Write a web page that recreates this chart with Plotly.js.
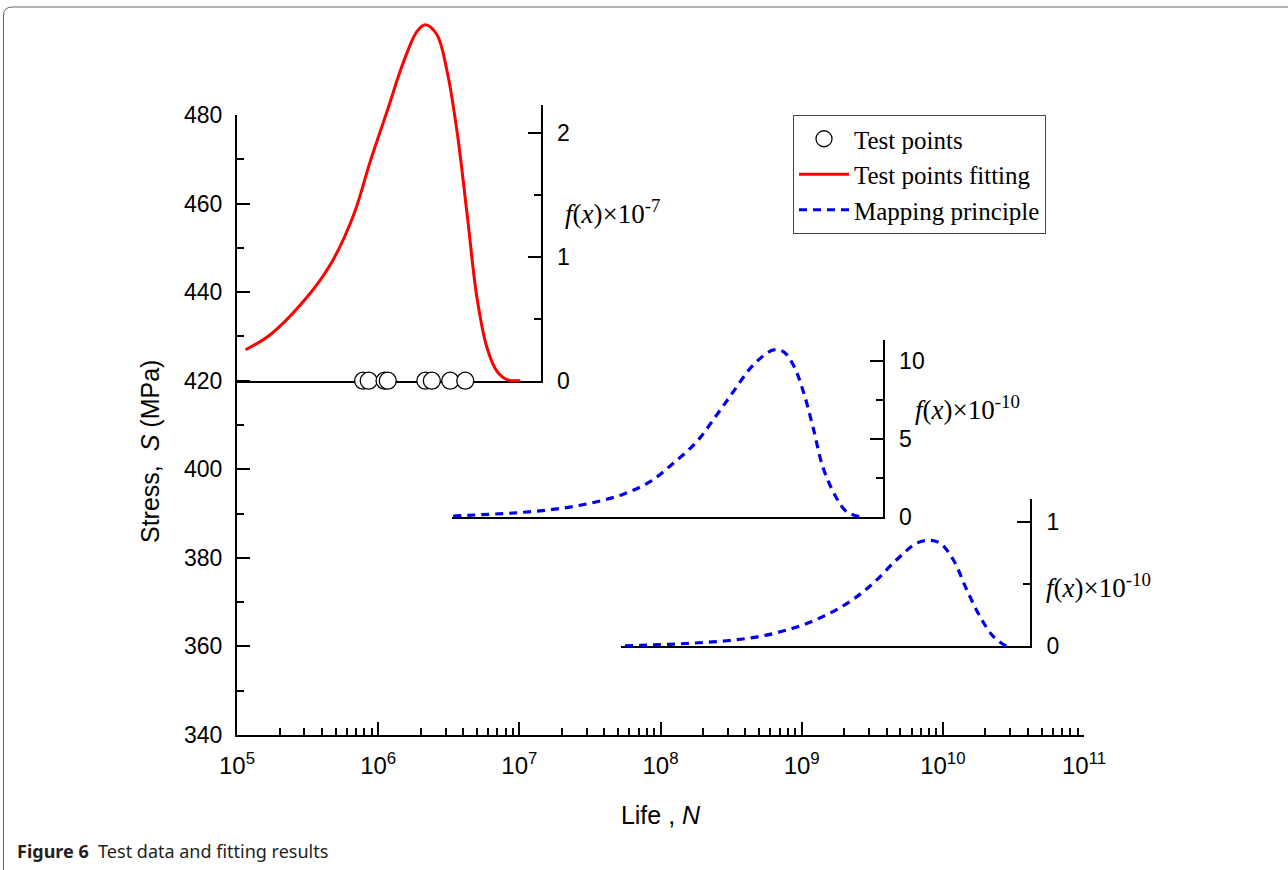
<!DOCTYPE html>
<html><head><meta charset="utf-8">
<script src="https://cdn.plot.ly/plotly-3.0.1.min.js"></script>
<style>html,body{margin:0;padding:0;background:#fff;} #chart{width:1288px;height:870px;}</style>
</head><body><div id="chart"></div>
<script>
// ---------------- DATA ----------------
// Test points at stress level 420 MPa
const testLife   = [7.82e5, 8.57e5, 1.11e6, 1.17e6, 2.16e6, 2.40e6, 3.24e6, 4.14e6];
const testStress = [420, 420, 420, 420, 420, 420, 420, 420];

// Test points fitting: f(x) x 10^-7
const fitLife = [1.15e5, 1.72e5, 2.96e5, 4.58e5, 6.71e5, 8.79e5, 1.156e6, 1.517e6, 1.884e6, 2.158e6,
                 2.61e6, 3.08e6, 3.62e6, 4.27e6, 5.01e6, 5.90e6, 6.95e6, 8.18e6, 1.016e7];
const fitF    = [0.250, 0.371, 0.640, 0.935, 1.339, 1.769, 2.172, 2.575, 2.817, 2.871,
                 2.790, 2.494, 2.010, 1.339, 0.669, 0.266, 0.075, 0.008, 0.0];

// Mapping principle, level 2: f(x) x 10^-10
const map1Life = [3.40e6, 6.19e6, 1.067e7, 1.837e7, 3.162e7, 5.445e7, 8.43e7, 1.233e8, 1.807e8, 2.50e8, 3.28e8,
                  4.54e8, 6.30e8, 7.41e8, 8.73e8, 1.028e9, 1.208e9, 1.422e9, 1.770e9, 2.084e9, 2.588e9];
const map1F    = [0.04, 0.154, 0.283, 0.495, 0.861, 1.439, 2.248, 3.430, 4.817, 6.532, 8.028,
                  9.743, 10.71, 10.60, 9.743, 8.028, 5.678, 3.109, 1.182, 0.321, 0.0];

// Mapping principle, level 3: f(x) x 10^-10
const map2Life = [5.60e7, 9.91e7, 1.706e8, 2.944e8, 5.07e8, 8.73e8, 1.422e9, 2.203e9, 3.214e9,
                  4.71e9, 6.53e9, 8.11e9, 9.55e9, 1.186e10, 1.476e10, 1.832e10, 2.275e10, 2.831e10];
const map2F    = [0.005, 0.014, 0.027, 0.046, 0.081, 0.148, 0.242, 0.363, 0.510,
                  0.699, 0.833, 0.855, 0.833, 0.699, 0.457, 0.242, 0.081, 0.0];

// Stress level (MPa) at which each density is drawn
const levelStress = [420, 389.3, 360];

// Tick labels
const xTickVals = [1e5, 1e6, 1e7, 1e8, 1e9, 1e10, 1e11];
const xTickText = ['10<sup>5</sup>', '10<sup>6</sup>', '10<sup>7</sup>', '10<sup>8</sup>',
                   '10<sup>9</sup>', '10<sup>10</sup>', '10<sup>11</sup>'];
const fLabels = ['<i>f</i>(<i>x</i>)×10<sup>-7</sup>', '<i>f</i>(<i>x</i>)×10<sup>-10</sup>', '<i>f</i>(<i>x</i>)×10<sup>-10</sup>'];

// ---------------- GEOMETRY ----------------
const W = 1288, H = 870;
const L = 237, R = 1084, T = 15, B = 735;
const sMin = 340, sMaxAxis = 480, stressTopPx = 115;
const ppm = (B - stressTopPx) / (sMaxAxis - sMin);       // pixels per MPa
const sTop = sMin + (B - T) / ppm;                        // stress at top of plot area
const px2x = p => (p - L) / (R - L);
const py2y = p => (B - p) / (B - T);
const sy = s => (s - sMin) / (sTop - sMin);

// per-panel: pixels per f unit, top of f axis, baseline span (px), ticks
const panels = [
  {pxPerUnit: 124,   top: 2.226, x0: 237,   x1: 540.5, dtick: 1, minor: 0.5, lab: [563, 212]},
  {pxPerUnit: 15.57, top: 11.35, x0: 451.5, x1: 882.5, dtick: 5, minor: 2.5, lab: [913, 408]},
  {pxPerUnit: 124,   top: 1.19,  x0: 621,   x1: 1030,  dtick: 1, minor: 0.5, lab: [1044, 586]}
];

const minorX = [];
for (let d = 5; d < 11; d++) for (let k = 2; k <= 9; k++) minorX.push(k * Math.pow(10, d));

const SANS = 'Liberation Sans, Arial, sans-serif';
const SERIF = 'Liberation Serif, Times New Roman, serif';
const hidden = {visible: false, showline: false, showgrid: false, zeroline: false, ticks: '', showticklabels: false, fixedrange: true};

// ---------------- TRACES ----------------
const dataTraces = [
  {
    name: 'Test points', x: testLife, y: testStress, xaxis: 'x5', yaxis: 'y5',
    type: 'scatter', mode: 'markers', cliponaxis: false,
    marker: {symbol: 'circle', size: 17, color: '#fff', line: {color: '#000', width: 1.3}}
  },
  {
    name: 'Test points fitting', x: fitLife, y: fitF, xaxis: 'x5', yaxis: 'y6',
    type: 'scatter', mode: 'lines', line: {color: '#ff0000', width: 3, shape: 'spline', smoothing: 1}
  },
  {
    name: 'Mapping principle', x: map1Life, y: map1F, xaxis: 'x5', yaxis: 'y7',
    type: 'scatter', mode: 'lines', line: {color: '#0000ee', width: 3.2, dash: '8px,6px', shape: 'spline', smoothing: 1}
  },
  {
    name: 'Mapping principle', x: map2Life, y: map2F, xaxis: 'x5', yaxis: 'y8', showlegend: false,
    type: 'scatter', mode: 'lines', line: {color: '#0000ee', width: 3.2, dash: '8px,6px', shape: 'spline', smoothing: 1}
  }
];
// empty traces registering the display subplots (axes only)
const axisTraces = [['x', 'y'], ['x2', 'y2'], ['x3', 'y3'], ['x4', 'y4']].map(a => ({
  x: [], y: [], xaxis: a[0], yaxis: a[1], type: 'scatter', mode: 'lines', showlegend: false, hoverinfo: 'skip'
}));

// ---------------- LAYOUT ----------------
const layout = {
  width: W, height: H, autosize: false,
  margin: {l: L, r: W - R, t: T, b: H - B, pad: 0},
  paper_bgcolor: '#ffffff', plot_bgcolor: 'rgba(0,0,0,0)',
  hovermode: false,
  font: {family: SANS, color: '#000'},
  showlegend: true,
  legend: {
    x: px2x(793), y: py2y(115), xanchor: 'left', yanchor: 'top',
    bgcolor: '#fff', bordercolor: '#444', borderwidth: 1,
    font: {family: SERIF, size: 25, color: '#000'},
    itemwidth: 50, traceorder: 'normal', tracegroupgap: 0
  },
  // visible main log axis
  xaxis: {
    type: 'log', range: [5, 11], domain: [0, 1], anchor: 'y',
    showline: true, linecolor: '#000', linewidth: 2,
    showgrid: false, zeroline: false, fixedrange: true,
    ticks: 'inside', ticklen: 13, tickwidth: 2, tickcolor: '#000',
    tickmode: 'array', tickvals: xTickVals, ticktext: xTickText,
    tickfont: {family: SANS, size: 24, color: '#000'},
    ticklabelstandoff: 8,
    minor: {tickmode: 'array', tickvals: minorX, ticks: 'inside', ticklen: 7, tickwidth: 2, tickcolor: '#000', showgrid: false},
    title: {text: 'Life , <i>N</i>', standoff: 29, font: {family: SANS, size: 25, color: '#000'}}
  },
  // visible stress axis
  yaxis: {
    range: [sMin, sMaxAxis], domain: [0, sy(sMaxAxis)], anchor: 'x',
    showline: true, linecolor: '#000', linewidth: 2,
    showgrid: false, zeroline: false, fixedrange: true,
    ticks: 'inside', ticklen: 13, tickwidth: 2, tickcolor: '#000',
    tick0: 340, dtick: 20, tickfont: {family: SANS, size: 23, color: '#000'}, ticklabelstandoff: 8,
    minor: {dtick: 10, ticks: 'inside', ticklen: 7, tickwidth: 2, tickcolor: '#000', showgrid: false}
  },
  // hidden data axes
  xaxis5: Object.assign({type: 'log', range: [5, 11], domain: [0, 1], anchor: 'y5'}, hidden),
  yaxis5: Object.assign({range: [sMin, sTop], domain: [0, 1], anchor: 'x5'}, hidden),
  annotations: [
    {xref: 'paper', yref: 'paper', x: px2x(150), y: py2y(452), text: 'Stress,\u00a0\u00a0<i>S</i> (MPa)',
     textangle: -90, showarrow: false, xanchor: 'center', yanchor: 'middle',
     font: {family: SANS, size: 25, color: '#000'}},
    {xref: 'paper', yref: 'paper', x: px2x(15), y: py2y(851), text: '<b>Figure 6</b>\u00a0\u00a0Test data and fitting results',
     showarrow: false, xanchor: 'left', yanchor: 'middle',
     font: {family: 'Noto Sans, sans-serif', size: 18, color: '#231f20'}}
  ],
  shapes: []
};

panels.forEach((p, i) => {
  const base = levelStress[i];
  const k = p.pxPerUnit / ppm;              // MPa per f unit
  const n = i + 2;                          // display axes 2..4
  const m = i + 6;                          // data axes 6..8
  layout['yaxis' + m] = Object.assign({
    overlaying: 'y5', anchor: 'x5',
    range: [(sMin - base) / k, (sTop - base) / k]
  }, hidden);
  layout['xaxis' + n] = {
    domain: [px2x(p.x0), px2x(p.x1)], anchor: 'y' + n, range: [0, 1],
    showline: true, linecolor: '#000', linewidth: 2, showgrid: false, zeroline: false,
    ticks: '', showticklabels: false, fixedrange: true
  };
  layout['yaxis' + n] = {
    domain: [sy(base), sy(base + p.top * k)], anchor: 'x' + n, side: 'right',
    range: [0, p.top], showline: true, linecolor: '#000', linewidth: 2,
    showgrid: false, zeroline: false, fixedrange: true,
    ticks: 'inside', ticklen: 13, tickwidth: 2, tickcolor: '#000',
    tick0: 0, dtick: p.dtick, tickfont: {family: SANS, size: 23, color: '#000'},
    ticklabelstandoff: 10,
    minor: {dtick: p.minor, ticks: 'inside', ticklen: 7, tickwidth: 2, tickcolor: '#000', showgrid: false}
  };
  layout.annotations.push({
    xref: 'paper', yref: 'paper', x: px2x(p.lab[0]), y: py2y(p.lab[1]), text: fLabels[i],
    showarrow: false, xanchor: 'left', yanchor: 'middle',
    font: {family: SERIF, size: 27, color: '#000'}
  });
});

// figure frame (top and left border of the page box)
const fp = (x, y) => px2x(x).toFixed(5) + ',' + py2y(y).toFixed(5);
layout.shapes.push({
  type: 'path', xref: 'paper', yref: 'paper', layer: 'below',
  path: 'M' + fp(1290, 7) + ' L' + fp(12, 7) + ' Q' + fp(3.5, 7) + ' ' + fp(3.5, 16) + ' L' + fp(3.5, 872),
  line: {color: '#666', width: 1}
});

Plotly.newPlot('chart', dataTraces.concat(axisTraces), layout, {staticPlot: true, displayModeBar: false});
</script>
</body></html>
